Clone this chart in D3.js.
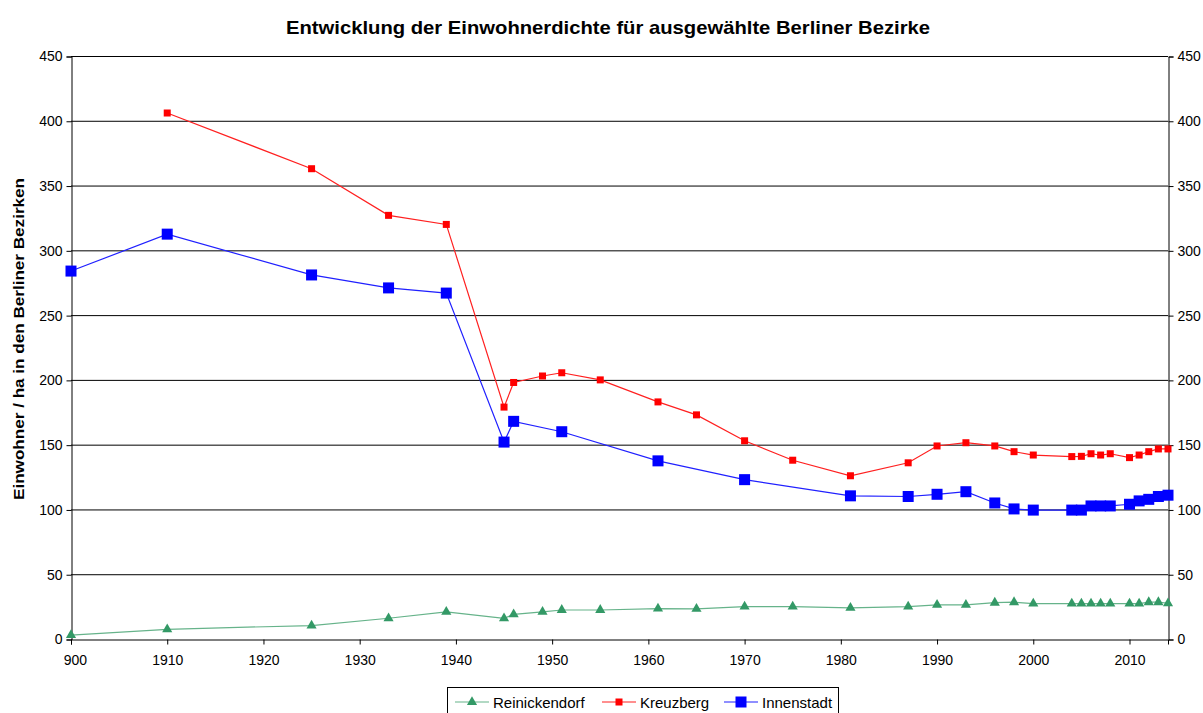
<!DOCTYPE html>
<html>
<head>
<meta charset="utf-8">
<script src="https://cdn.jsdelivr.net/npm/d3@7"></script>
<style>
  body { margin: 0; background: #fff; }
  text { font-family: "Liberation Sans", Arial, sans-serif; }
</style>
</head>
<body>
<script>
// data (Einwohner / ha)
var years = [1900, 1910, 1925, 1933, 1939, 1945, 1946, 1949, 1951, 1955, 1961, 1965, 1970, 1975, 1981, 1987,
             1990, 1993, 1996, 1998, 2000, 2004, 2005, 2006, 2007, 2008, 2010, 2011, 2012, 2013, 2014];

// null = no value for that year
var reinickendorf = [3, 7.5, 10.4, 16, 21, 16, 19, 21, 22.4, 22.4, 23.4, 23.2, 25, 25, 24, 25,
                     26.3, 26.3, 28, 28.4, 27.3, 27.3, 27.3, 27.3, 27.3, 27.3, 27.3, 27.3, 28.4, 28.4, 27.6];
var kreuzberg = [null, 406, 363, 327, 320, 179, 198, 203, 205.5, 200, 183, 173, 153, 138, 126, 136,
                 149, 151.5, 149, 144.6, 142, 140.8, 141, 143, 142, 143, 140, 142, 144.6, 146.7, 146.7];
var innenstadt = [284, 312.5, 281, 271, 267, 152, 168, null, 160, null, 137.5, null, 123, null, 110.5, 110,
                  111.7, 113.7, 105, 100.4, 99.5, 99.5, 99.5, 102.7, 102.7, 102.7, 104, 106.6, 107.8, 110, 111];

var yTicks = [0, 50, 100, 150, 200, 250, 300, 350, 400, 450];
var xTicks = [1900, 1910, 1920, 1930, 1940, 1950, 1960, 1970, 1980, 1990, 2000, 2010];

var seriesNames = ["Reinickendorf", "Kreuzberg", "Innenstadt"];

window.onload = function(){

    var w = 1203, h = 713;
    var left = 71, right = 1168, top = 56, bottom = 639;

    var svg = d3.select("body").append("svg")
        .attr("width", w)
        .attr("height", h);

    var x = d3.scaleLinear().domain([1900, 2014]).range([left, right]);
    var y = d3.scaleLinear().domain([0, 450]).range([bottom, top]);

    //gridlines
    svg.append("g").selectAll("line")
        .data(yTicks.filter(function(d){ return d > 0; }))
        .enter().append("line")
        .attr("x1", left).attr("x2", right)
        .attr("y1", function(d){ return y(d) + 0.5; })
        .attr("y2", function(d){ return y(d) + 0.5; })
        .attr("stroke", "#000").attr("stroke-width", 1);

    //left axis
    var yLeft = svg.append("g")
        .attr("transform", "translate(" + (left + 0.5) + ",0.5)")
        .call(d3.axisLeft(y).tickValues(yTicks).tickSize(5).tickPadding(4));
    //right axis
    var yRight = svg.append("g")
        .attr("transform", "translate(" + (right + 0.5) + ",0.5)")
        .call(d3.axisRight(y).tickValues(yTicks).tickSize(5).tickPadding(4));

    //clip so the "1" of 1900 is cut like in the original
    svg.append("clipPath").attr("id", "xclip")
        .append("rect").attr("x", 64).attr("y", 0).attr("width", w).attr("height", h);

    var xAxis = svg.append("g")
        .attr("clip-path", "url(#xclip)")
        .append("g")
        .attr("transform", "translate(0," + (bottom + 0.5) + ")")
        .call(d3.axisBottom(x).tickValues(xTicks).tickFormat(d3.format("d")).tickSize(5).tickPadding(11));

    [yLeft, yRight, xAxis].forEach(function(a){
        a.select(".domain").attr("stroke", "#000");
        a.selectAll(".tick line").attr("stroke", "#000");
        a.selectAll("text")
            .style("font-family", "'Liberation Sans', Arial, sans-serif")
            .style("font-size", "14px")
            .attr("fill", "#000");
    });

    //series
    var series = [
        { name: seriesNames[0], values: reinickendorf, color: "#339966", line: "#66b38a", marker: "triangle", size: 9 },
        { name: seriesNames[1], values: kreuzberg, color: "#ff0000", line: "#ff2020", marker: "square", size: 7 },
        { name: seriesNames[2], values: innenstadt, color: "#0000ff", line: "#2020ff", marker: "square", size: 11 }
    ];

    function points(s){
        return years.map(function(yr, i){ return { year: yr, v: s.values[i] }; })
            .filter(function(d){ return d.v !== null; });
    }

    var line = d3.line()
        .x(function(d){ return x(d.year); })
        .y(function(d){ return y(d.v); });

    function drawMarker(g, s, cx, cy){
        if (s.marker === "square") {
            g.append("rect")
                .attr("x", cx - s.size / 2).attr("y", cy - s.size / 2)
                .attr("width", s.size).attr("height", s.size)
                .attr("fill", s.color);
        } else {
            g.append("path")
                .attr("d", d3.symbol().type(d3.symbolTriangle).size(s.size * s.size * 0.55)())
                .attr("transform", "translate(" + cx + "," + cy + ")")
                .attr("fill", s.color);
        }
    }

    // Innenstadt at the back, Reinickendorf in front
    [series[2], series[1], series[0]].forEach(function(s){
        var pts = points(s);
        var g = svg.append("g").attr("class", "series");
        g.append("path")
            .datum(pts)
            .attr("d", line)
            .attr("fill", "none")
            .attr("stroke", s.line)
            .attr("stroke-width", 1.2);
        pts.forEach(function(d){
            drawMarker(g, s, x(d.year), y(d.v));
        });
    });

    //title
    svg.append("text")
        .attr("x", 608).attr("y", 34)
        .attr("text-anchor", "middle")
        .attr("textLength", 644)
        .attr("lengthAdjust", "spacingAndGlyphs")
        .style("font-size", "19px")
        .style("font-weight", "bold")
        .text("Entwicklung der Einwohnerdichte für ausgewählte Berliner Bezirke");

    //y axis title
    svg.append("text")
        .attr("transform", "translate(24,339) rotate(-90)")
        .attr("text-anchor", "middle")
        .attr("textLength", 322)
        .attr("lengthAdjust", "spacingAndGlyphs")
        .style("font-size", "15px")
        .style("font-weight", "bold")
        .text("Einwohner / ha in den Berliner Bezirken");

    //legend
    var legend = svg.append("g");
    legend.append("rect")
        .attr("x", 447.5).attr("y", 687.5)
        .attr("width", 391).attr("height", 30)
        .attr("fill", "#fff").attr("stroke", "#000");

    var legendX = [455, 602, 724];
    series.forEach(function(s, i){
        var lx = legendX[i], ly = 702;
        legend.append("line")
            .attr("x1", lx).attr("x2", lx + 34)
            .attr("y1", ly).attr("y2", ly)
            .attr("stroke", s.line).attr("stroke-width", 1.2);
        drawMarker(legend, s, lx + 17, ly);
        legend.append("text")
            .attr("x", lx + 38).attr("y", ly + 6)
            .style("font-size", "15px")
            .text(s.name);
    });
};
</script>
</body>
</html>
